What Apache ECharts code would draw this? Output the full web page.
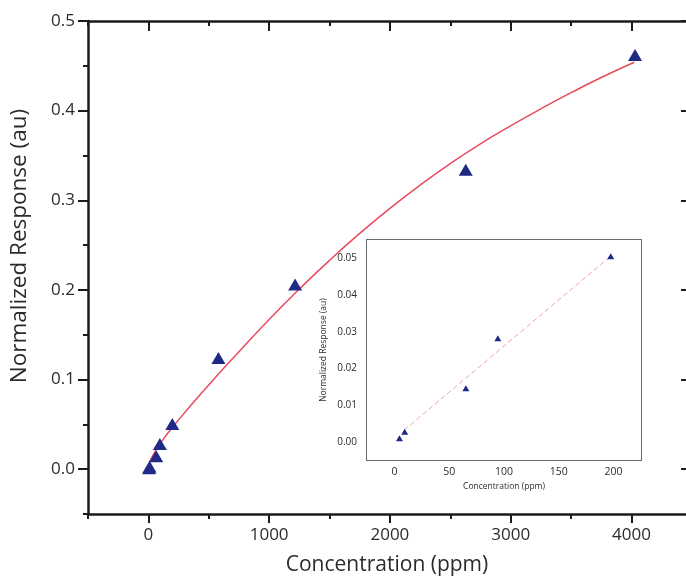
<!DOCTYPE html>
<html>
<head>
<meta charset="utf-8">
<script src="https://cdn.jsdelivr.net/npm/echarts@6/dist/echarts.min.js"></script>
<style>
html,body{margin:0;padding:0;background:#fff;}
#chart{width:686px;height:583px;}
</style>
</head>
<body>
<div id="chart"></div>
<script>
// ---- Data ----
const mainConc = [5, 10, 65, 95, 198, 580, 1215, 2628, 4030];
const mainResp = [0.001, 0.0027, 0.0145, 0.028, 0.0505, 0.124, 0.206, 0.334, 0.462];

const fitConc = [8, 100, 250, 500, 750, 1000, 1250, 1500, 1750, 2000, 2250, 2500, 2750, 3000, 3250, 3500, 3750, 4024];
const fitResp = [0.008, 0.029, 0.055, 0.094, 0.131, 0.167, 0.201, 0.233, 0.263, 0.291, 0.317, 0.341, 0.363, 0.383, 0.402, 0.420, 0.437, 0.454];

const insetConc = [4.6, 9.4, 65.2, 94.4, 197.4];
const insetResp = [0.0009, 0.0027, 0.0146, 0.0282, 0.0506];

const insetFitConc = [9, 197];
const insetFitResp = [0.0032, 0.0505];

const mainXTicks = [0, 1000, 2000, 3000, 4000];
const mainXMinor = [-500, 500, 1500, 2500, 3500];
const mainYTicks = [0.0, 0.1, 0.2, 0.3, 0.4, 0.5];
const mainYMinor = [-0.05, 0.05, 0.15, 0.25, 0.35, 0.45];

const insetXTicks = [0, 50, 100, 150, 200];
const insetXMinor = [25, 75, 125, 175];
const insetYTicks = [0.00, 0.01, 0.02, 0.03, 0.04, 0.05];
const insetYMinor = [0.005, 0.015, 0.025, 0.035, 0.045];

const xTitle = 'Concentration (ppm)';
const yTitle = 'Normalized Response (au)';

// ---- Styles ----
const FONT = '"Open Sans", "Noto Sans", sans-serif';
const TXT = '#2b2b2b';
const AX = '#1b1b1b';
const AXI = '#3a3a48';
const MARK = '#1f2a85';

function zip(a, b) { return a.map((v, i) => [v, b[i]]); }
function ax(base, extra) { return Object.assign({}, base, extra); }

// the main frame runs slightly past the right edge of the picture
const mainX = { gridIndex: 0, type: 'value', min: -500, max: 4452, splitLine: { show: false } };
const mainY = { gridIndex: 0, type: 'value', min: -0.05, max: 0.5, splitLine: { show: false } };
const insX = { gridIndex: 1, type: 'value', min: -25, max: 225, splitLine: { show: false } };
const insY = { gridIndex: 1, type: 'value', min: -0.005, max: 0.055, splitLine: { show: false } };

function tickOnly(base, pos, values, len, inside, color, width) {
  return ax(base, {
    position: pos, offset: 0,
    axisLine: { show: false, onZero: false },
    axisTick: { show: true, customValues: values, length: len, inside: inside, lineStyle: { color: color, width: width } },
    axisLabel: { show: false }
  });
}

const option = {
  backgroundColor: '#ffffff',
  animation: false,
  grid: [
    { left: 88, top: 21, right: 0, height: 493, containLabel: false },
    { left: 367, top: 240, width: 274, height: 220, containLabel: false, show: true, backgroundColor: '#ffffff', borderWidth: 0, z: 5 }
  ],
  xAxis: [
    ax(mainX, {
      position: 'bottom', offset: 0,
      axisLine: { show: true, onZero: false, lineStyle: { color: AX, width: 2.5 } },
      axisTick: { show: true, customValues: mainXTicks, length: 9, inside: false, lineStyle: { color: AX, width: 2 } },
      axisLabel: { show: true, customValues: mainXTicks, margin: 13, fontFamily: FONT, fontSize: 17, color: TXT,
        formatter: v => String(v) },
      name: xTitle, nameLocation: 'middle', nameGap: 41,
      nameTextStyle: { fontFamily: FONT, fontSize: 21, color: TXT }
    }),
    tickOnly(mainX, 'bottom', mainXMinor, 5, false, AX, 2),
    ax(mainX, {
      position: 'top', offset: 0,
      axisLine: { show: true, onZero: false, lineStyle: { color: AX, width: 2.5 } },
      axisTick: { show: true, customValues: mainXTicks, length: 10, inside: true, lineStyle: { color: AX, width: 2 } },
      axisLabel: { show: false }
    }),
    tickOnly(mainX, 'top', mainXMinor, 5, true, AX, 2),
    ax(insX, {
      position: 'bottom', offset: 0,
      axisLine: { show: true, onZero: false, lineStyle: { color: AXI, width: 1.5 } },
      axisTick: { show: true, customValues: insetXTicks, length: 4, inside: true, lineStyle: { color: AXI, width: 1.2 } },
      axisLabel: { show: true, customValues: insetXTicks, margin: 7, fontFamily: FONT, fontSize: 10.5, color: TXT,
        formatter: v => String(v) },
      name: xTitle, nameLocation: 'middle', nameGap: 22,
      nameTextStyle: { fontFamily: FONT, fontSize: 8.5, color: TXT }
    }),
    tickOnly(insX, 'bottom', insetXMinor, 2.5, true, AXI, 1.2),
    ax(insX, {
      position: 'top', offset: 0,
      axisLine: { show: true, onZero: false, lineStyle: { color: AXI, width: 1.5 } },
      axisTick: { show: true, customValues: insetXTicks, length: 4, inside: true, lineStyle: { color: AXI, width: 1.2 } },
      axisLabel: { show: false }
    }),
    tickOnly(insX, 'top', insetXMinor, 2.5, true, AXI, 1.2)
  ],
  yAxis: [
    ax(mainY, {
      position: 'left', offset: 0,
      axisLine: { show: true, onZero: false, lineStyle: { color: AX, width: 2.5 } },
      axisTick: { show: true, customValues: mainYTicks, length: 10, inside: false, lineStyle: { color: AX, width: 2 } },
      axisLabel: { show: true, customValues: mainYTicks, margin: 13, fontFamily: FONT, fontSize: 17, color: TXT,
        formatter: v => v.toFixed(1) }
    }),
    tickOnly(mainY, 'left', mainYMinor, 5, false, AX, 2),
    // right frame side is just beyond the picture edge: only tick ends show
    ax(mainY, {
      position: 'right', offset: 0,
      axisLine: { show: false, onZero: false },
      axisTick: { show: true, customValues: mainYTicks, length: 5, inside: true, lineStyle: { color: AX, width: 2 } },
      axisLabel: { show: false }
    }),
    ax(insY, {
      position: 'left', offset: 0,
      axisLine: { show: true, onZero: false, lineStyle: { color: AXI, width: 1.5 } },
      axisTick: { show: true, customValues: insetYTicks, length: 4, inside: true, lineStyle: { color: AXI, width: 1.2 } },
      axisLabel: { show: true, customValues: insetYTicks, margin: 10, fontFamily: FONT, fontSize: 10, color: TXT,
        formatter: v => v.toFixed(2) },
      name: yTitle, nameLocation: 'middle', nameGap: 39, nameRotate: 90,
      nameTextStyle: { fontFamily: FONT, fontSize: 8.5, color: TXT }
    }),
    tickOnly(insY, 'left', insetYMinor, 2.5, true, AXI, 1.2),
    ax(insY, {
      position: 'right', offset: 0,
      axisLine: { show: true, onZero: false, lineStyle: { color: AXI, width: 1.5 } },
      axisTick: { show: true, customValues: insetYTicks, length: 4, inside: true, lineStyle: { color: AXI, width: 1.2 } },
      axisLabel: { show: false }
    }),
    tickOnly(insY, 'right', insetYMinor, 2.5, true, AXI, 1.2)
  ],
  graphic: [
    {
      type: 'text', x: 20, y: 246, rotation: Math.PI / 2,
      style: { text: yTitle, fontFamily: FONT, fontSize: 22.5, fill: TXT, align: 'center', verticalAlign: 'middle' },
      z: 100
    }
  ],
  series: [
    {
      name: 'fit', type: 'line', xAxisIndex: 0, yAxisIndex: 0,
      data: zip(fitConc, fitResp), smooth: 0.5, showSymbol: false, symbol: 'none',
      lineStyle: { color: '#e84a5f', width: 1.5 }, z: 2
    },
    {
      name: 'data', type: 'scatter', xAxisIndex: 0, yAxisIndex: 0,
      data: zip(mainConc, mainResp), symbol: 'triangle', symbolSize: [14, 12],
      itemStyle: { color: MARK, opacity: 1 }, z: 3
    },
    {
      name: 'inset fit', type: 'line', xAxisIndex: 4, yAxisIndex: 3,
      data: zip(insetFitConc, insetFitResp), showSymbol: false, symbol: 'none',
      lineStyle: { color: '#f2a0ab', width: 1, type: [5, 3] }, z: 6
    },
    {
      name: 'inset data', type: 'scatter', xAxisIndex: 4, yAxisIndex: 3,
      data: zip(insetConc, insetResp), symbol: 'triangle', symbolSize: [7, 6],
      itemStyle: { color: MARK, opacity: 1 }, z: 7
    }
  ]
};

const chart = echarts.init(document.getElementById('chart'), null, { renderer: 'canvas', width: 686, height: 583 });
chart.setOption(option);
</script>
</body>
</html>
